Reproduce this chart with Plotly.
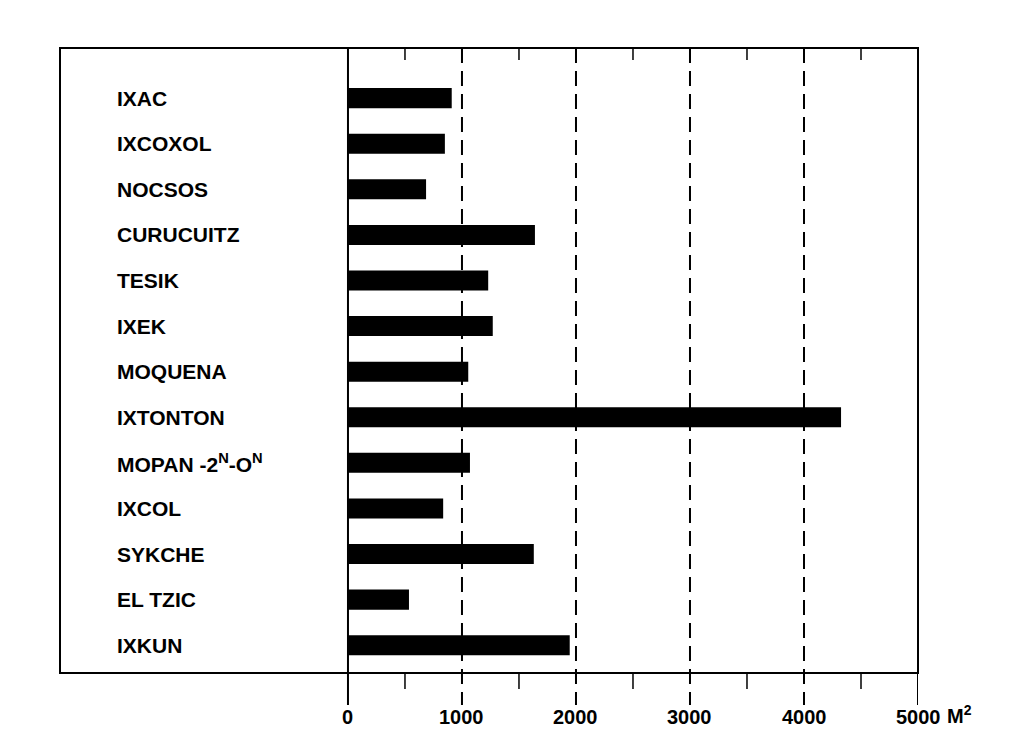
import plotly.graph_objects as go

categories = ["IXAC", "IXCOXOL", "NOCSOS", "CURUCUITZ", "TESIK", "IXEK", "MOQUENA",
              "IXTONTON", "MOPAN -2<sup>N</sup>-O<sup>N</sup>", "IXCOL", "SYKCHE", "EL TZIC", "IXKUN"]
areas_m2 = [910, 850, 685, 1640, 1230, 1270, 1055, 4325, 1070, 835, 1630, 535, 1945]
tick_values = [0, 1000, 2000, 3000, 4000, 5000]
tick_labels = ["0", "1000", "2000", "3000", "4000", "5000"]
unit_label = "M<sup>2</sup>"

FONT = "Arial, Liberation Sans, sans-serif"
fig = go.Figure()
fig.add_trace(go.Bar(
    y=list(range(len(categories))), x=areas_m2, orientation="h",
    marker=dict(color="black", line=dict(width=0)), width=0.44,
    hoverinfo="skip", showlegend=False,
))

shapes = []
ybot = -0.0512
# frame
shapes.append(dict(type="rect", xref="paper", yref="paper", x0=0, x1=1, y0=0, y1=1,
                   line=dict(color="black", width=2)))
# zero line and right edge extension
shapes.append(dict(type="line", xref="x", yref="paper", x0=0, x1=0, y0=1, y1=ybot,
                   line=dict(color="black", width=2)))
shapes.append(dict(type="line", xref="x", yref="paper", x0=5000, x1=5000, y0=1, y1=ybot,
                   line=dict(color="black", width=2)))
# dashed gridlines
for v in tick_values[1:-1]:
    shapes.append(dict(type="line", xref="x", yref="paper", x0=v, x1=v, y0=1, y1=ybot,
                       line=dict(color="black", width=2, dash="15px,8px")))
# minor ticks at top and bottom
for v in range(500, 5000, 500):
    shapes.append(dict(type="line", xref="x", yref="paper", x0=v, x1=v, y0=1, y1=0.981,
                       line=dict(color="black", width=1.5)))
    if v % 1000:
        shapes.append(dict(type="line", xref="x", yref="paper", x0=v, x1=v, y0=0, y1=-0.0256,
                           line=dict(color="black", width=1.5)))

annotations = []
for i, c in enumerate(categories):
    annotations.append(dict(x=-2044, y=i, xref="x", yref="y", text="<b>%s</b>" % c,
                            xanchor="left", yanchor="middle", showarrow=False,
                            font=dict(family=FONT, size=21, color="black")))
for v, t in zip(tick_values, tick_labels):
    annotations.append(dict(x=v, y=-0.0704, xref="x", yref="paper", text="<b>%s</b>" % t,
                            xanchor="center", yanchor="middle", showarrow=False,
                            font=dict(family=FONT, size=20, color="black")))
annotations.append(dict(x=1.0315, y=-0.066, xref="paper", yref="paper", text="<b>%s</b>" % unit_label,
                        xanchor="left", yanchor="middle", showarrow=False,
                        font=dict(family=FONT, size=20, color="black")))

fig.update_layout(
    width=1016, height=739,
    margin=dict(l=52, r=106, t=40, b=74),
    paper_bgcolor="white", plot_bgcolor="white",
    xaxis=dict(range=[-2526, 5000], showgrid=False, zeroline=False, showline=False,
               showticklabels=False, ticks=""),
    yaxis=dict(range=[12.61, -1.1], showgrid=False, zeroline=False, showline=False,
               showticklabels=False, ticks=""),
    shapes=shapes, annotations=annotations,
)
fig.write_html("out.html")
